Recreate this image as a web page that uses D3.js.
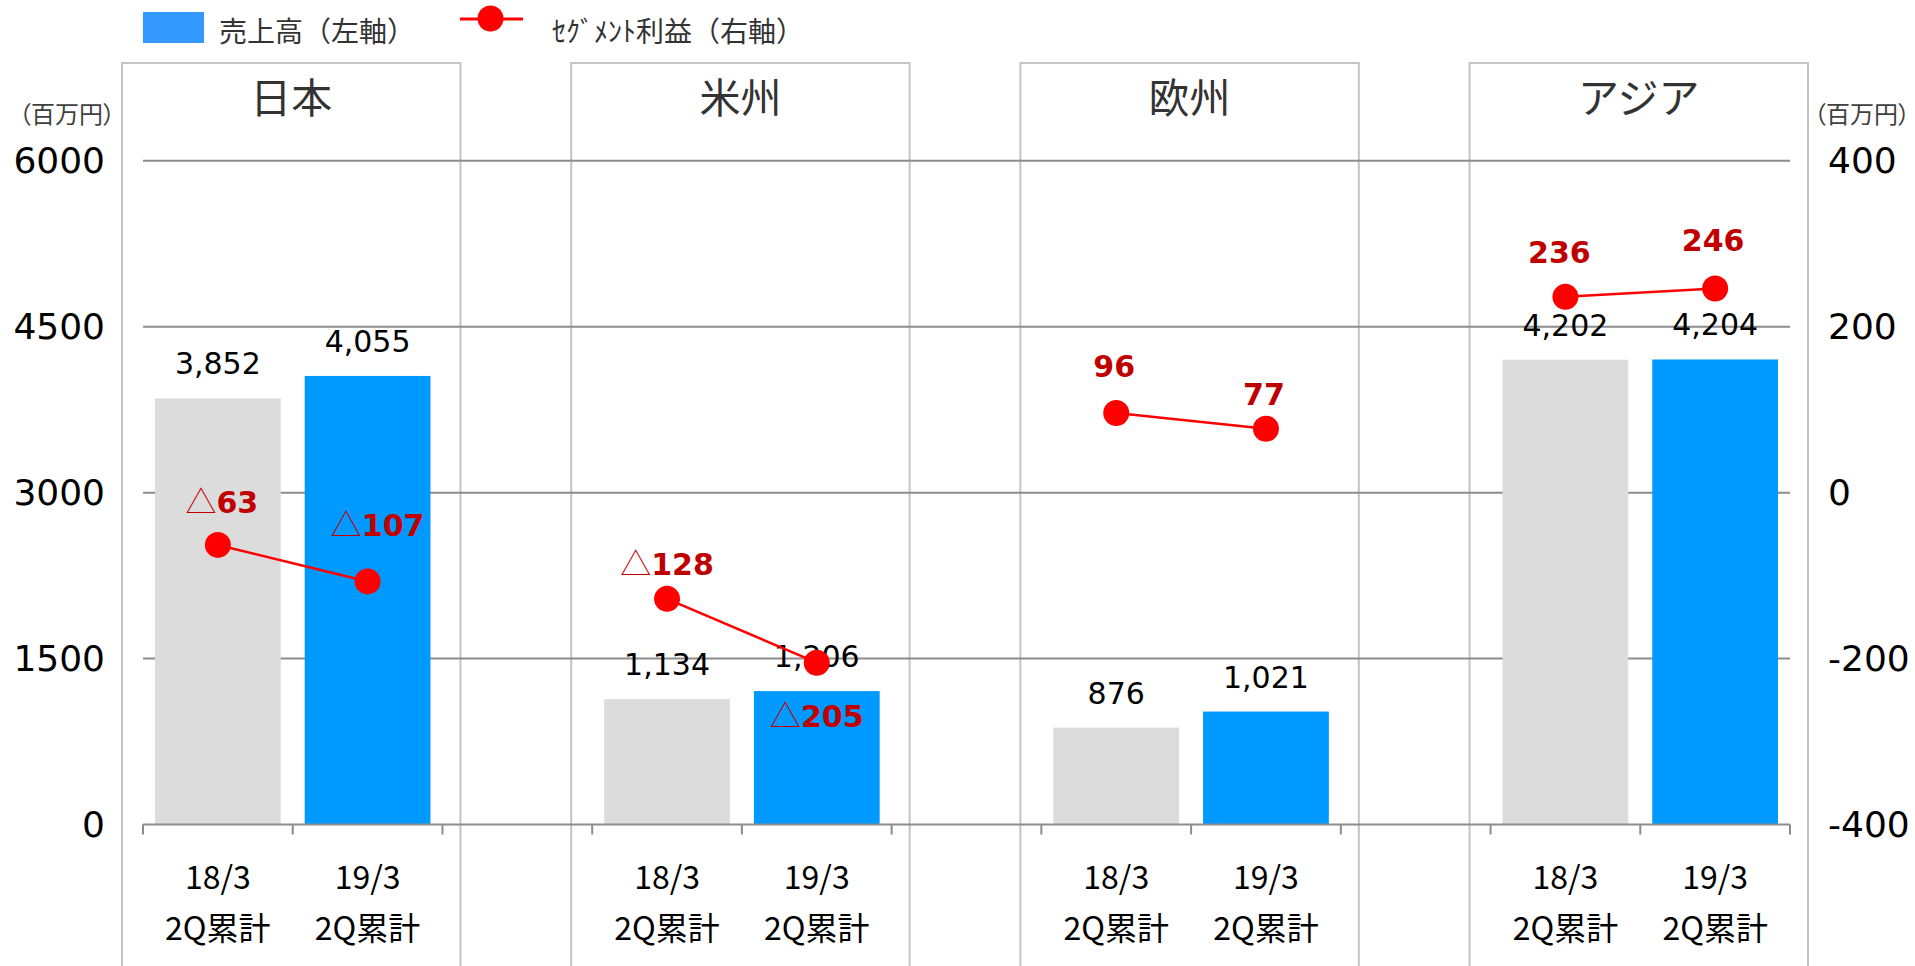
<!DOCTYPE html>
<html>
<head>
<meta charset="utf-8">
<script src="https://cdn.jsdelivr.net/npm/d3@7"></script>
<style>
  html, body { margin: 0; padding: 0; background: #fff; }
  svg { display: block; }
  .palt { font-feature-settings: "palt" 1; }
</style>
</head>
<body>
<svg id="chart" width="1915" height="966"></svg>
<script>
// ---------------- data ----------------
const regions = ["日本", "米州", "欧州", "アジア"];
const periods = ["18/3", "19/3"];
const periodSub = "2Q累計";
const sales1803 = [3852, 1134, 876, 4202];
const sales1903 = [4055, 1206, 1021, 4204];
const profit1803 = [-63, -128, 96, 236];
const profit1903 = [-107, -205, 77, 246];
const leftTicks = [0, 1500, 3000, 4500, 6000];
const rightTicks = [-400, -200, 0, 200, 400];
const unitLabel = "（百万円）";
const legendLabels = ["売上高（左軸）", "ｾｸﾞﾒﾝﾄ利益（右軸）"];

// ---------------- layout / style ----------------
const W = 1915, H = 966;
const plot = { left: 143, right: 1790, top: 160.8, bottom: 824.5 };
const colors = { gray: "#dcdcdc", blue: "#0099ff", legendBlue: "#3399ff", red: "#ff0000", redText: "#c00000", grid: "#8c8c8c", frame: "#c4c4c4", text: "#000", title: "#333" };
const numFont = "'DejaVu Sans', Verdana, sans-serif";
const jpFont = "'Noto Sans CJK JP', 'Noto Sans', sans-serif";
// manual label nudges [dx, dy] for profit labels (order: region x period)
const profitLabelOffset = [[4, -32], [10, -45], [0, -24], [0, 64], [-2, -36], [-2, -24], [-6, -34], [-2, -38]];

// ---------------- build rows ----------------
const rows = [];
const slots = [];
regions.forEach((r, i) => {
  periods.forEach((p, j) => {
    const key = r + "|" + p;
    slots.push(key);
    rows.push({ key, region: r, regionIndex: i, period: p, periodIndex: j,
      sales: j === 0 ? sales1803[i] : sales1903[i],
      profit: j === 0 ? profit1803[i] : profit1903[i] });
  });
  if (i < regions.length - 1) slots.push("gap" + i);
});

const svg = d3.select("#chart");
svg.append("rect").attr("width", W).attr("height", H).attr("fill", "#fff");

const x = d3.scaleBand().domain(slots).range([plot.left, plot.right]).paddingInner(0).paddingOuter(0);
const barW = x.bandwidth() * 0.84;
const yL = d3.scaleLinear().domain([0, 6000]).range([plot.bottom, plot.top]);
const yR = d3.scaleLinear().domain([-400, 400]).range([plot.bottom, plot.top]);

// ---------------- panels ----------------
const panelTop = 63;
const gPanels = svg.append("g");
regions.forEach((r, i) => {
  const x0 = x(r + "|" + periods[0]) - 21;
  const x1 = x(r + "|" + periods[1]) + x.bandwidth() + 18;
  gPanels.append("path")
    .attr("d", `M${x0},${H + 5}V${panelTop}H${x1}V${H + 5}`)
    .attr("fill", "none").attr("stroke", colors.frame).attr("stroke-width", 2);
  gPanels.append("text")
    .attr("x", (x0 + x1) / 2).attr("y", 113)
    .attr("text-anchor", "middle")
    .attr("font-family", jpFont).attr("font-size", 41)
    .attr("fill", colors.title)
    .text(r);
});

// ---------------- gridlines ----------------
svg.append("g").selectAll("line").data(leftTicks.filter(d => d !== 0)).join("line")
  .attr("x1", plot.left).attr("x2", plot.right)
  .attr("y1", d => yL(d)).attr("y2", d => yL(d))
  .attr("stroke", colors.grid).attr("stroke-width", 2);

// ---------------- bars ----------------
svg.append("g").selectAll("rect").data(rows).join("rect")
  .attr("x", d => x(d.key) + (x.bandwidth() - barW) / 2)
  .attr("width", barW)
  .attr("y", d => yL(d.sales))
  .attr("height", d => yL(0) - yL(d.sales))
  .attr("fill", d => d.periodIndex === 0 ? colors.gray : colors.blue);

// ---------------- x axis baseline + ticks ----------------
const gX = svg.append("g");
gX.append("line")
  .attr("x1", plot.left).attr("x2", plot.right)
  .attr("y1", yL(0)).attr("y2", yL(0))
  .attr("stroke", colors.grid).attr("stroke-width", 2);
const tickXs = slots.map(s => x(s)).concat([x(slots[slots.length - 1]) + x.bandwidth()]);
gX.selectAll("line.tk").data(tickXs).join("line").attr("class", "tk")
  .attr("x1", d => d).attr("x2", d => d)
  .attr("y1", yL(0)).attr("y2", yL(0) + 10)
  .attr("stroke", colors.grid).attr("stroke-width", 2);

// category labels
const gCat = svg.append("g").attr("font-family", jpFont).attr("font-size", 32).attr("fill", colors.text).attr("text-anchor", "middle");
gCat.selectAll("text.p").data(rows).join("text").attr("class", "p")
  .attr("x", d => x(d.key) + x.bandwidth() / 2).attr("y", 889)
  .text(d => d.period);
gCat.selectAll("text.s").data(rows).join("text").attr("class", "s")
  .attr("x", d => x(d.key) + x.bandwidth() / 2).attr("y", 940)
  .text(periodSub);

// ---------------- y axes ----------------
const plainFmt = d => String(d);
const axL = svg.append("g").attr("transform", `translate(${plot.left},0)`)
  .call(d3.axisLeft(yL).tickValues(leftTicks).tickSize(0).tickPadding(38).tickFormat(plainFmt));
const axR = svg.append("g").attr("transform", `translate(${plot.right},0)`)
  .call(d3.axisRight(yR).tickValues(rightTicks).tickSize(0).tickPadding(38).tickFormat(plainFmt));
[axL, axR].forEach(ax => {
  ax.select(".domain").remove();
  ax.selectAll("text").attr("font-family", numFont).attr("font-size", 36).attr("fill", colors.text);
});

// unit labels
[67, 1862].forEach(ux => {
  svg.append("text").attr("class", "palt").attr("x", ux).attr("y", 123).attr("text-anchor", "middle")
    .attr("font-family", jpFont).attr("font-size", 24).attr("fill", "#404040").text(unitLabel);
});

// ---------------- bar value labels ----------------
svg.append("g").selectAll("text").data(rows).join("text")
  .attr("x", d => x(d.key) + x.bandwidth() / 2)
  .attr("y", d => yL(d.sales) - 24)
  .attr("text-anchor", "middle")
  .attr("font-family", numFont).attr("font-size", 30).attr("fill", colors.text)
  .text(d => d3.format(",")(d.sales));

// ---------------- profit lines + points ----------------
const line = d3.line().x(d => x(d.key) + x.bandwidth() / 2).y(d => yR(d.profit));
const gLine = svg.append("g");
regions.forEach((r, i) => {
  const seg = rows.filter(d => d.regionIndex === i);
  gLine.append("path").datum(seg).attr("d", line)
    .attr("fill", "none").attr("stroke", colors.red).attr("stroke-width", 2.5);
});
gLine.selectAll("circle").data(rows).join("circle")
  .attr("cx", d => x(d.key) + x.bandwidth() / 2)
  .attr("cy", d => yR(d.profit))
  .attr("r", 13).attr("fill", colors.red);

// profit labels
const gPL = svg.append("g");
rows.forEach((d, k) => {
  const off = profitLabelOffset[k];
  const t = gPL.append("text")
    .attr("x", x(d.key) + x.bandwidth() / 2 + off[0])
    .attr("y", yR(d.profit) + off[1])
    .attr("text-anchor", "middle")
    .attr("fill", colors.redText);
  if (d.profit < 0) {
    t.append("tspan").attr("font-family", jpFont).attr("font-weight", 300).attr("font-size", 31).text("△");
  }
  t.append("tspan").attr("font-family", numFont).attr("font-weight", "bold").attr("font-size", 30)
    .text(Math.abs(d.profit));
});

// ---------------- legend ----------------
const gLeg = svg.append("g");
gLeg.append("rect").attr("x", 143).attr("y", 12).attr("width", 61).attr("height", 31).attr("fill", colors.legendBlue);
gLeg.append("text").attr("x", 219).attr("y", 41.5).attr("font-family", jpFont).attr("font-size", 28).attr("fill", "#333").text(legendLabels[0]);
gLeg.append("line").attr("x1", 460).attr("x2", 523).attr("y1", 19).attr("y2", 19).attr("stroke", colors.red).attr("stroke-width", 3);
gLeg.append("circle").attr("cx", 490.5).attr("cy", 18.5).attr("r", 13).attr("fill", colors.red);
gLeg.append("text").attr("x", 552).attr("y", 41.5).attr("font-family", jpFont).attr("font-size", 28).attr("fill", "#333").text(legendLabels[1]);
</script>
</body>
</html>
